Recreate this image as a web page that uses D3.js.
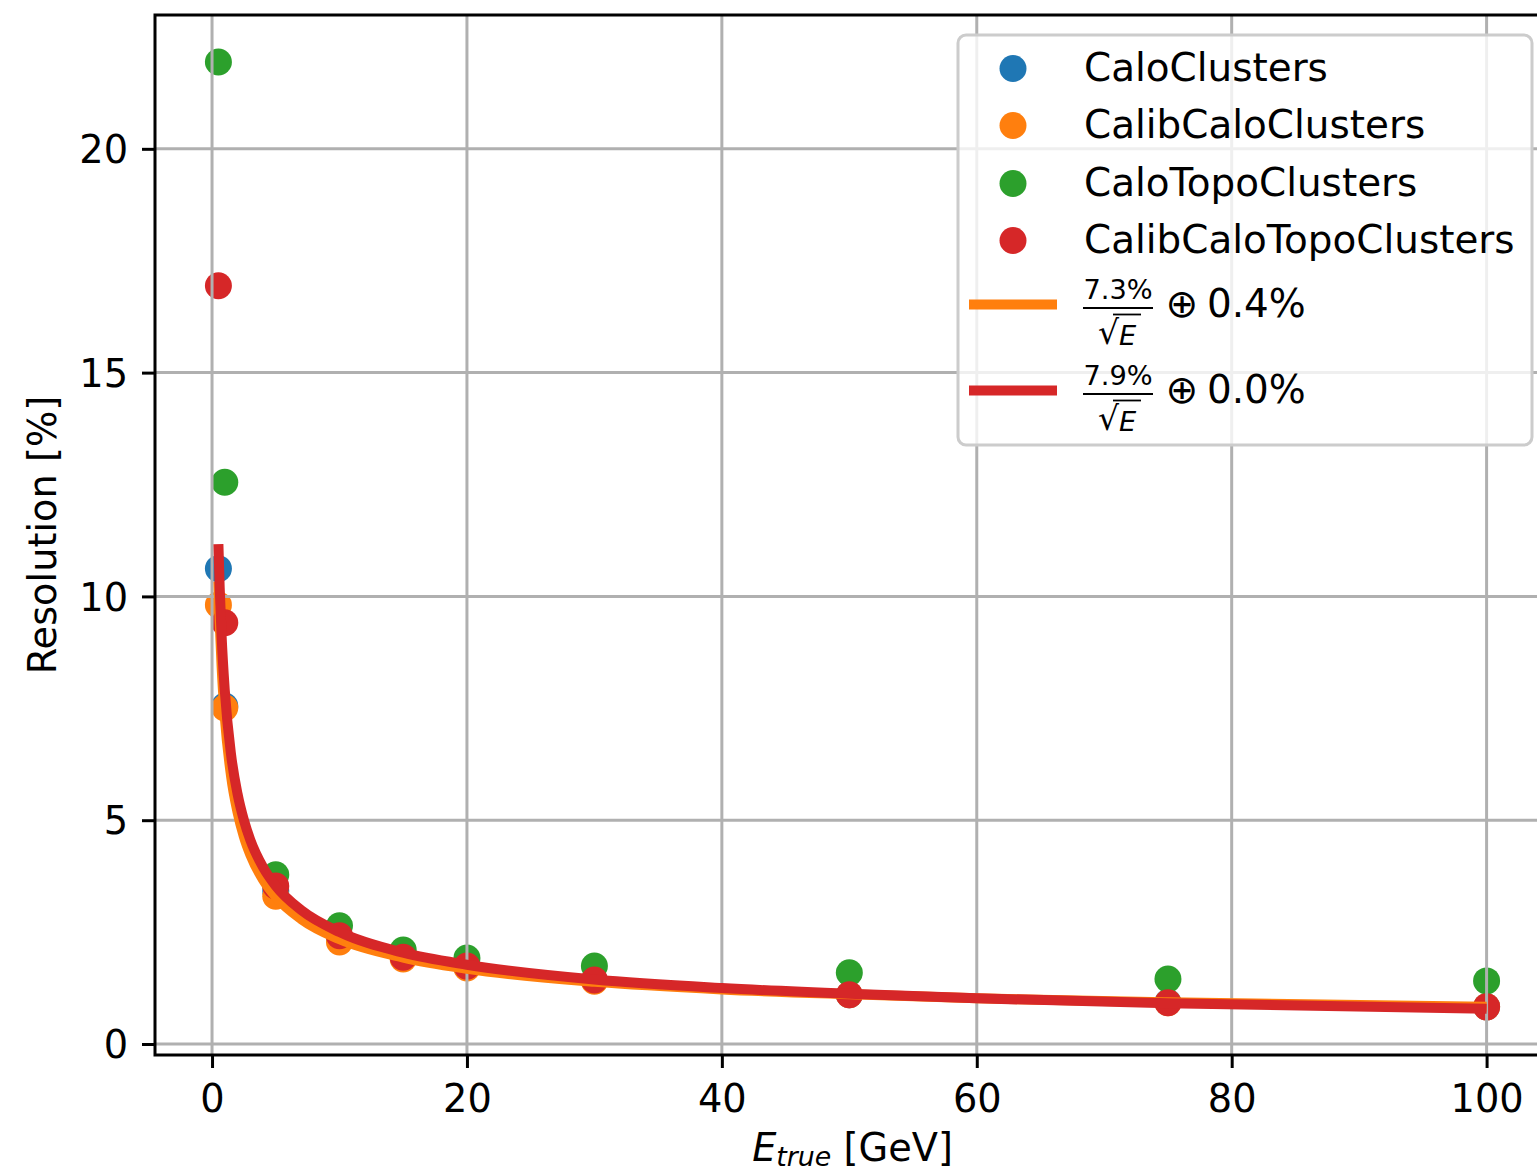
<!DOCTYPE html>
<html>
<head>
<meta charset="utf-8">
<script src="https://cdn.jsdelivr.net/npm/d3@7"></script>
<style>
  html, body { margin: 0; padding: 0; background: #fff; }
  svg { display: block; font-family: "DejaVu Sans", sans-serif; }
</style>
</head>
<body>
<svg id="chart" width="1537" height="1175"></svg>
<script>
// ---------------- data ----------------
const energies = [0.5, 1, 5, 10, 15, 20, 30, 50, 75, 100];
const caloClusters          = [10.62, 7.55, 3.42, 2.35, 1.95, 1.72, 1.42, 1.10, 0.93, 0.83];
const calibCaloClusters     = [9.81, 7.51, 3.30, 2.28, 1.90, 1.70, 1.40, 1.10, 0.92, 0.83];
const caloTopoClusters      = [21.94, 12.55, 3.78, 2.64, 2.10, 1.92, 1.74, 1.59, 1.45, 1.41];
const calibCaloTopoClusters = [16.94, 9.41, 3.53, 2.42, 1.94, 1.74, 1.43, 1.10, 0.92, 0.83];

const seriesNames = ["CaloClusters", "CalibCaloClusters", "CaloTopoClusters", "CalibCaloTopoClusters"];
const seriesColors = ["#1f77b4", "#ff7f0e", "#2ca02c", "#d62728"];

// fitted resolution curves (sampled values)
const fitE = [0.5, 0.6, 0.75, 1, 1.5, 2, 2.5, 3, 4, 5, 7, 10, 15, 20, 30, 40, 50, 60, 75, 100];
const fitOrange = [10.33, 9.43, 8.44, 7.31, 5.97, 5.18, 4.63, 4.23, 3.67, 3.29, 2.79, 2.34, 1.93, 1.68, 1.39, 1.22, 1.11, 1.02, 0.93, 0.83];
const fitRed    = [11.17, 10.20, 9.12, 7.90, 6.45, 5.59, 5.00, 4.56, 3.95, 3.53, 2.99, 2.50, 2.04, 1.77, 1.44, 1.25, 1.12, 1.02, 0.91, 0.79];
const fitLabels = [{num: "7.3%", cst: "0.4%"}, {num: "7.9%", cst: "0.0%"}];

const xTicks = [0, 20, 40, 60, 80, 100];
const yTicks = [0, 5, 10, 15, 20];

// ---------------- layout ----------------
const svg = d3.select("#chart");
const L = 155, R = 1550, T = 15, B = 1055;
const FS = 38.3;
const LFS = 38.9;

const x = d3.scaleLinear().domain([-4.475, 104.975]).range([L, R]);
const y = d3.scaleLinear().domain([-0.246, 22.99]).range([B, T]);

const plot = svg.append("g");
plot.append("defs").append("clipPath").attr("id", "clip")
  .append("rect").attr("x", L).attr("y", T).attr("width", R - L).attr("height", B - T);
const inner = plot.append("g").attr("clip-path", "url(#clip)");

// scatter (drawn below the grid, as in matplotlib)
const allSeries = [caloClusters, calibCaloClusters, caloTopoClusters, calibCaloTopoClusters];
allSeries.forEach((vals, i) => {
  inner.append("g").selectAll("circle")
    .data(energies.map((e, j) => [e, vals[j]]))
    .join("circle")
    .attr("cx", d => x(d[0]))
    .attr("cy", d => y(d[1]))
    .attr("r", 13.5)
    .attr("fill", seriesColors[i]);
});

// grid
inner.append("g").selectAll("line").data(xTicks).join("line")
  .attr("x1", d => x(d)).attr("x2", d => x(d)).attr("y1", T).attr("y2", B)
  .attr("stroke", "#b0b0b0").attr("stroke-width", 3);
inner.append("g").selectAll("line").data(yTicks).join("line")
  .attr("y1", d => y(d)).attr("y2", d => y(d)).attr("x1", L).attr("x2", R)
  .attr("stroke", "#b0b0b0").attr("stroke-width", 3);

// fit lines
const line = d3.line().x(d => x(d[0])).y(d => y(d[1])).curve(d3.curveMonotoneX);
inner.append("path").datum(fitE.map((e, j) => [e, fitOrange[j]]))
  .attr("d", line).attr("fill", "none").attr("stroke", "#ff7f0e").attr("stroke-width", 10);
inner.append("path").datum(fitE.map((e, j) => [e, fitRed[j]]))
  .attr("d", line).attr("fill", "none").attr("stroke", "#d62728").attr("stroke-width", 10);

// axes
const xAxis = d3.axisBottom(x).tickValues(xTicks).tickSize(13).tickSizeOuter(0).tickPadding(16);
const gx = svg.append("g").attr("transform", `translate(0,${B})`).call(xAxis);
gx.select(".domain").remove();
gx.selectAll(".tick line").attr("stroke", "#000").attr("stroke-width", 3);
gx.selectAll(".tick text").attr("font-size", FS).attr("font-family", "DejaVu Sans").attr("fill", "#000").attr("dy", "0.73em");

const yAxis = d3.axisLeft(y).tickValues(yTicks).tickSize(13).tickSizeOuter(0).tickPadding(14);
const gy = svg.append("g").attr("transform", `translate(${L},0)`).call(yAxis);
gy.select(".domain").remove();
gy.selectAll(".tick line").attr("stroke", "#000").attr("stroke-width", 3);
gy.selectAll(".tick text").attr("font-size", FS).attr("font-family", "DejaVu Sans").attr("fill", "#000").attr("dy", "0.36em");

// spines
svg.append("rect").attr("x", L).attr("y", T).attr("width", R - L).attr("height", B - T)
  .attr("fill", "none").attr("stroke", "#000").attr("stroke-width", 3);

// axis labels
const xl = svg.append("text").attr("x", (L + R) / 2).attr("y", 1161)
  .attr("text-anchor", "middle").attr("font-size", FS).attr("fill", "#000");
xl.append("tspan").attr("font-style", "italic").text("E");
xl.append("tspan").attr("font-style", "italic").attr("font-size", FS * 0.7).attr("dy", 5).text("true");
xl.append("tspan").attr("dy", -5).text(" [GeV]");

svg.append("text").attr("transform", `translate(56,${(T + B) / 2}) rotate(-90)`)
  .attr("text-anchor", "middle").attr("font-size", FS).attr("fill", "#000")
  .text("Resolution [%]");

// legend
const lg = svg.append("g");
lg.append("rect").attr("x", 958).attr("y", 35).attr("width", 574).attr("height", 410)
  .attr("rx", 8).attr("ry", 8)
  .attr("fill", "rgba(255,255,255,0.8)").attr("stroke", "#cccccc").attr("stroke-width", 3);

const rowY = [67, 124, 182, 239];
seriesNames.forEach((name, i) => {
  lg.append("circle").attr("cx", 1013).attr("cy", rowY[i] + 1.5).attr("r", 13.5).attr("fill", seriesColors[i]);
  lg.append("text").attr("x", 1084).attr("y", rowY[i] + 14).attr("font-size", LFS).attr("fill", "#000").text(name);
});

const fitColors = ["#ff7f0e", "#d62728"];
const barYs = [308, 394];
fitLabels.forEach((f, i) => {
  const by = barYs[i];
  lg.append("line").attr("x1", 969).attr("x2", 1057).attr("y1", by - 3.5).attr("y2", by - 3.5)
    .attr("stroke", fitColors[i]).attr("stroke-width", 10);
  lg.append("text").attr("x", 1118).attr("y", by - 9).attr("text-anchor", "middle")
    .attr("font-size", LFS * 0.7).attr("fill", "#000").text(f.num);
  lg.append("line").attr("x1", 1083).attr("x2", 1153).attr("y1", by).attr("y2", by)
    .attr("stroke", "#000").attr("stroke-width", 2.2);
  lg.append("text").attr("x", 1098).attr("y", by + 36).attr("font-size", LFS * 0.85).attr("fill", "#000").text("√");
  lg.append("line").attr("x1", 1113).attr("x2", 1141).attr("y1", by + 6.5).attr("y2", by + 6.5)
    .attr("stroke", "#000").attr("stroke-width", 1.8);
  lg.append("text").attr("x", 1119).attr("y", by + 37).attr("font-size", LFS * 0.7)
    .attr("font-style", "italic").attr("fill", "#000").text("E");
  lg.append("text").attr("x", 1182).attr("y", by + 9).attr("text-anchor", "middle")
    .attr("font-size", LFS).attr("fill", "#000").text("⊕");
  lg.append("text").attr("x", 1207).attr("y", by + 9).attr("font-size", LFS).attr("fill", "#000").text(f.cst);
});
</script>
</body>
</html>
